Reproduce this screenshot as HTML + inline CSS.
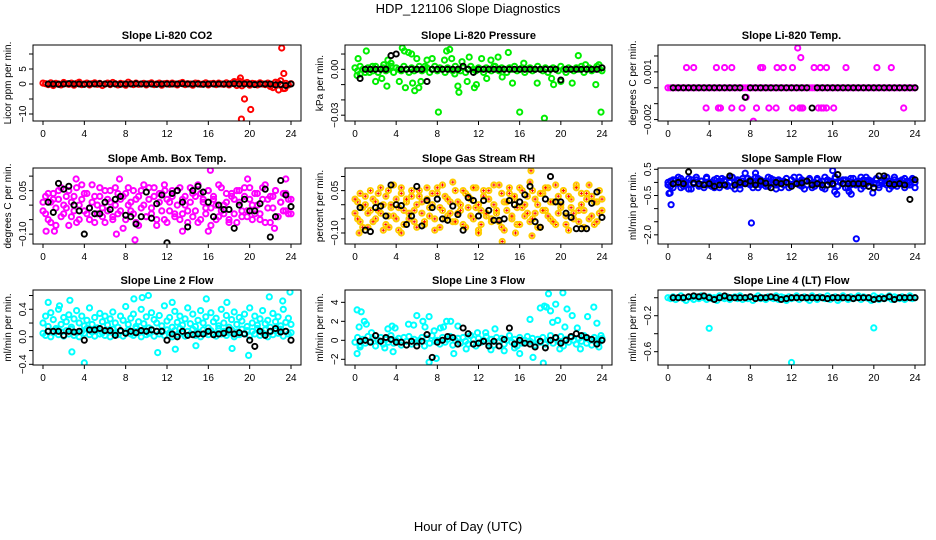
<!DOCTYPE html>
<html><head><meta charset="utf-8"><style>
html,body{margin:0;padding:0;background:#fff;}
svg{display:block;font-family:"Liberation Sans",sans-serif;}
</style></head><body>
<svg id="chart" width="936" height="540" viewBox="0 0 936 540">
<rect x="0" y="0" width="936" height="540" fill="#fff"/>
<text x="468" y="13" font-size="13" text-anchor="middle">HDP_121106  Slope Diagnostics</text>
<text x="468" y="531" font-size="13" text-anchor="middle">Hour of Day (UTC)</text>
</svg>
<script>
// ---------- data ----------
const hourTicks = [0,4,8,12,16,20,24];
const hourTickLabels = ["0","4","8","12","16","20","24"];

// Panel 1: CO2
const co2Band = [0.3,0.1,-0.2,0.4,-0.5,0.2,0,-0.3,0.5,0.1,-0.1,0.3,-0.4,0.2,0.6,-0.2,0,0.3,-0.3,0.1,0.4,-0.1,0.2,-0.5,0,0.3,-0.2,0.5,0.1,-0.3,0.2,0,-0.4,0.6,0.1,-0.2,0.3,-0.1,0,0.2,-0.3,0.1,0.4,-0.2,0,0.3,-0.4,0.1,0.2,-0.1,0.3,0,-0.3,0.2,0.5,-0.2,0.1,0,-0.4,0.3,0.2,-0.1,0,0.4,-0.3,0.1,0.2,-0.2,0.3,0,-0.1,0.4,-0.3,0.2,0.8,-0.5,1.0,-0.6,0.3,0.5,-0.4,0.2,0.1,-0.3,0.4,0,-0.2,0.3,-0.8,-1.2,0.6,0.4,1.1,-1.5,0.2,-0.3,0.1];
const co2OutlierHours = [19.1,19.2,19.5,20.1,23.1,23.3,22.8,23.4];
const co2OutlierValues = [2,-11.7,-5,-8.5,12,3.5,-2,-1.5];
const co2Black = [0,0,-0.1,0,0.1,0,0,-0.1,0,0,0.1,0,0,0,-0.1,0,0,0.1,0,0,0,-0.1,0,0,0,0,0.1,0,0,0,-0.1,0,0,0,0,0,0.1,0,0,0,-0.2,0,0,0,-0.3,-0.2,-0.5,0];
const co2Ticks = [-10,-5,0,5,10];
const co2TickLabels = ["\u221210","","0","5",""];

// Panel 2: Pressure
const presBand = [0.001,-0.001,0.002,0.0,-0.002,0.001,0.0,-0.001,0.002,-0.002,0.0,0.001,-0.001,0.0,0.002,-0.002,0.001,0.0,-0.001,0.002,0.0,-0.002,0.001,-0.001,0.0,0.002,-0.001,0.0,0.001,-0.002,0.0,0.002,-0.001,0.001,0.0,-0.002,0.001,0.0,-0.001,0.002,0.0,-0.001,0.001,-0.002,0.0,0.002,0.0,-0.001,0.001,0.0,-0.002,0.001,0.0,-0.001,0.002,0.0,-0.001,0.001,0.0,-0.002,0.001,0.0,0.002,-0.001,0.0,0.001,-0.002,0.0,0.001,-0.001,0.0,0.002,0.0,-0.001,0.001,-0.002,0.0,0.001,0.0,-0.001,0.002,0.0,-0.002,0.001,0.0,-0.001,0.001,0.0,0.002,-0.002,0.0,0.001,-0.001,0.0,0.002,0.0,-0.001];
const presScatterHours = [1.1,0.3,0.5,1.7,2,2.6,3.1,3.2,3.5,4.3,4.6,4.8,4.9,5.2,5.5,5.6,5.8,6,6.2,6.4,7,7.5,8.1,8.7,8.9,9.2,9.4,9.7,10,10.1,10.4,10.9,11.1,11.6,11.8,12.3,12.8,13.2,13.6,13.9,14.3,14.9,15.3,16,16.4,17.7,18.4,19.1,19.3,20,21.1,21.7,22.4,23.4,23.9,23.7,2.8,1.4,6.8,0.2];
const presScatterValues = [0.012,0.007,-0.003,0.002,-0.008,-0.006,-0.011,0.006,0.004,-0.008,0.014,0.012,-0.012,0.011,0.01,-0.009,-0.014,0.007,-0.012,-0.008,0.006,0.007,-0.028,0.006,0.012,0.013,0.007,-0.003,-0.011,-0.015,0.005,-0.008,0.008,-0.012,-0.01,0.007,-0.006,0.006,0.002,0.008,-0.005,0.011,-0.009,-0.028,0.004,-0.009,-0.032,-0.006,-0.01,-0.008,-0.009,0.009,0.003,-0.01,-0.028,0.003,0.003,-0.002,0.002,-0.004];
const presBlack = [-0.006,0.0,0.0,0.0,0.0,0.0,0.009,0.01,0.0,0.0,0.0,0.0,0.0,-0.008,0.0,0.0,0.0,0.0,0.0,0.0,0.002,0.0,-0.002,0.0,0.0,0.0,0.0,0.0,0.0,0.0,0.0,0.0,0.0,0.0,0.0,0.0,0.0,0.0,0.0,-0.007,0.0,0.0,0.0,0.0,0.0,0.0,0.0,0.001];
const presTicks = [-0.03,-0.02,-0.01,0,0.01];
const presTickLabels = ["\u22120.03","","","0.00",""];

// Panel 3: Li-820 Temp
const tempBand = [0,0,0,0,0,0,0,0,0,0,0,0,0,0,0,0,0,0,0,0,0,0,0,0,0,0,0,0,0,0,0,0,0,0,0,0,0,0,0,0,0,0,0,0,0,0,0,0,0,0,0,0,0,0,0,0,0,0,0,0,0,0,0,0,0,0,0,0,0,0,0,0,0,0,0,0,0,0,0,0,0,0,0,0,0,0,0,0,0,0,0,0,0,0,0,0,0];
const tempOutlierHours = [1.8,2.5,4.7,5.5,6.2,9,9.2,10.6,11.2,12.1,14.2,14.8,15.4,17.3,20.3,21.7,3.7,4.9,5.1,6.2,7.2,8.6,9.8,10.5,12.1,12.8,13,13.1,14.6,14.9,15.1,15.4,16.1,22.9,12.6,12.9,8.3,7.6];
const tempOutlierValues = [0.00127,0.00127,0.00127,0.00127,0.00127,0.00127,0.00127,0.00127,0.00127,0.00127,0.00127,0.00127,0.00127,0.00127,0.00127,0.00127,-0.00127,-0.00127,-0.00127,-0.00127,-0.00127,-0.00127,-0.00127,-0.00127,-0.00127,-0.00127,-0.00127,-0.00127,-0.00127,-0.00127,-0.00127,-0.00127,-0.00127,-0.00127,0.0025,0.0019,-0.0021,-0.0006];
const tempBlack = [0,0,0,0,0,0,0,0,0,0,0,0,0,0,-0.0006,0,0,0,0,0,0,0,0,0,0,0,0,-0.00127,0,0,0,0,0,0,0,0,0,0,0,0,0,0,0,0,0,0,0,0];
const tempTicks = [-0.002,-0.001,0,0.001,0.002];
const tempTickLabels = ["\u22120.002","","","0.001",""];

// Panel 4: Amb. Box Temp
const boxA = [0.01,-0.03,0.04,-0.06,0.02,-0.01,0.05,-0.04,0.00,0.03,-0.07,0.01,-0.02,0.06,-0.05,0.02,0.04,-0.03,-0.01,0.07,-0.06,0.00,0.03,-0.04,0.05,-0.02,0.01,-0.05,0.06,-0.03,0.02,-0.08,0.04,0.00,-0.02,0.05,-0.06,0.03,-0.01,0.07,-0.04,0.02,-0.03,0.06,-0.07,0.01,0.04,-0.05,0.02,-0.02,0.05,-0.04,0.00,0.06,-0.03,0.03,-0.06,0.01,0.04,-0.02,0.07,-0.05,0.02,-0.01,0.05,-0.07,0.03,0.00,-0.04,0.06,-0.03,0.01,-0.05,0.04,0.02,-0.06,0.05,-0.02,0.03,-0.04,0.06,0.00,-0.03,0.04,-0.05,0.02,0.07,-0.01,-0.06,0.03,0.05,-0.04,0.01,-0.02,0.04,-0.03,0.02];
const boxB = [-0.02,0.03,-0.05,0.01,0.04,-0.07,0.02,0.06,-0.03,-0.01,0.05,-0.04,0.03,-0.06,0.00,0.07,-0.02,0.04,-0.05,0.01,0.03,-0.03,0.06,-0.01,-0.06,0.02,0.05,-0.04,0.00,0.04,-0.02,0.03,-0.05,0.06,0.01,-0.03,0.02,-0.07,0.05,0.00,-0.04,0.06,-0.01,0.03,-0.05,0.04,-0.02,0.07,-0.06,0.01,0.03,-0.03,0.05,-0.05,0.02,0.00,-0.02,0.06,-0.04,0.03,-0.06,0.04,0.01,-0.03,0.05,-0.01,0.02,-0.05,0.07,-0.02,0.00,0.04,-0.06,0.03,-0.03,0.05,0.01,-0.04,0.06,-0.02,0.02,-0.05,0.04,0.00,-0.03,0.06,-0.06,0.02,0.03,-0.01,0.05,-0.04,0.01,0.04,-0.02,0.02,-0.03];
const boxOutlierHours = [0.3,1.1,3.2,7.4,8.9,16.2,16,19.8,23.5,22.4,11.8,13.5,7.1];
const boxOutlierValues = [-0.09,-0.09,0.09,0.09,-0.12,0.12,-0.09,0.09,0.09,-0.08,0.05,-0.09,-0.1];
const boxBlack = [0.01,-0.025,0.075,0.055,0.065,0.0,-0.02,-0.1,-0.01,-0.03,-0.03,0.01,-0.015,0.02,0.03,-0.035,-0.04,-0.065,-0.04,0.045,-0.045,0.005,0.035,-0.13,0.04,0.05,0.01,-0.075,0.05,0.065,0.045,0.01,-0.04,0.0,-0.015,-0.015,-0.08,0.0,0.02,-0.02,-0.02,0.005,0.055,-0.11,-0.04,0.085,0.035,-0.005];
const boxTicks = [-0.10,-0.05,0,0.05,0.10];
const boxTickLabels = ["\u22120.10","","","0.05",""];

// Panel 5: Gas Stream RH
const rhA = [-0.03,0.01,-0.06,-0.01,0.03,-0.08,-0.02,0.02,-0.05,0.04,-0.03,0.00,-0.07,0.05,-0.01,-0.04,0.02,-0.09,0.06,-0.02,0.01,-0.05,0.03,-0.06,0.00,0.05,-0.03,-0.07,0.02,-0.01,0.04,-0.05,0.06,-0.08,-0.02,0.03,-0.04,0.01,-0.06,0.05,-0.03,0.00,-0.07,0.04,-0.01,0.02,-0.05,0.06,-0.09,-0.02,0.03,-0.04,0.05,-0.06,0.00,-0.03,0.07,-0.08,0.01,-0.02,0.04,-0.05,0.02,-0.07,0.06,-0.01,-0.04,0.03,-0.06,0.05,-0.03,0.00,-0.08,0.04,-0.02,0.06,-0.05,0.01,-0.07,0.03,-0.01,0.05,-0.04,-0.09,0.02,-0.03,0.07,-0.06,0.00,-0.02,0.04,-0.05,0.03,-0.07,0.01,-0.03,0.02];
const rhB = [0.02,-0.05,0.04,-0.08,0.00,-0.03,0.05,-0.06,0.01,-0.02,0.06,-0.09,0.03,-0.04,0.00,0.07,-0.05,-0.01,0.04,-0.07,0.02,-0.03,0.05,-0.02,-0.08,0.03,0.01,-0.06,0.06,-0.04,0.00,-0.09,0.04,-0.01,0.07,-0.05,0.02,-0.03,0.08,-0.06,0.01,-0.02,0.05,-0.08,0.03,-0.04,0.06,-0.01,0.00,-0.07,0.05,-0.03,0.02,-0.05,0.07,-0.02,-0.06,0.04,-0.09,0.01,0.06,-0.04,0.03,-0.01,-0.07,0.05,0.00,-0.03,0.08,-0.05,0.02,-0.08,0.04,-0.02,0.06,-0.04,0.01,-0.06,0.07,-0.03,0.00,0.05,-0.07,0.03,-0.01,-0.05,0.06,-0.02,0.04,-0.08,0.02,0.07,-0.04,0.01,-0.06,0.05,-0.02];
const rhOutlierHours = [14.3,17.1,17.2,3.3,12,15.6,0.4,4.5];
const rhOutlierValues = [-0.13,0.12,-0.11,-0.08,-0.1,-0.1,-0.1,-0.1];
const rhBlack = [-0.01,-0.09,-0.095,-0.01,-0.005,-0.04,0.07,0.0,-0.003,-0.07,-0.04,0.065,-0.075,0.015,-0.01,0.02,-0.05,-0.055,-0.005,-0.035,-0.09,0.025,0.015,-0.04,0.015,-0.02,-0.055,-0.055,-0.05,0.015,0.0,0.01,0.035,0.065,-0.06,-0.08,0.02,0.1,0.01,0.01,-0.03,-0.045,-0.085,-0.085,-0.085,0.005,0.045,-0.045];
const rhTicks = [-0.10,-0.05,0,0.05,0.10];
const rhTickLabels = ["\u22120.10","","","0.05",""];

// Panel 6: Sample Flow
const sampleA = [-0.1,0.05,-0.2,0.1,-0.05,0.15,-0.15,0.0,-0.25,0.1,-0.05,0.2,-0.1,0.05,-0.2,0.15,0.0,-0.15,0.1,-0.05,-0.2,0.15,0.05,-0.1,0.2,-0.15,0.0,0.1,-0.25,0.05,-0.05,0.15,-0.1,0.0,0.2,-0.2,0.1,-0.05,0.05,-0.15,0.15,0.0,-0.1,0.1,-0.2,0.05,0.15,-0.05,-0.15,0.2,0.0,-0.1,0.1,-0.25,0.05,0.15,-0.05,-0.15,0.1,0.0,-0.2,0.2,-0.1,0.05,-0.05,0.15,-0.15,0.0,0.1,-0.2,0.05,-0.1,0.15,-0.05,0.0,-0.25,0.1,0.2,-0.15,0.05,-0.05,0.1,-0.2,0.0,0.15,-0.1,0.05,-0.15,0.2,-0.05,0.0,0.1,-0.2,0.05,-0.1,0.15,0.0];
const sampleB = [0.0,-0.15,0.1,-0.05,0.2,-0.2,0.05,-0.1,0.15,-0.25,0.0,0.1,-0.15,0.05,-0.05,0.2,-0.1,0.0,-0.2,0.15,0.05,-0.05,0.1,-0.15,0.0,0.2,-0.25,0.05,-0.1,0.15,0.0,-0.05,0.1,-0.2,0.05,0.15,-0.1,0.0,-0.15,0.2,-0.05,0.1,-0.25,0.05,0.0,-0.1,0.15,-0.2,0.1,-0.05,0.0,0.2,-0.15,0.05,-0.1,0.1,-0.2,0.0,0.15,-0.05,0.05,-0.25,0.1,0.0,-0.1,0.2,-0.15,0.05,-0.05,0.1,-0.2,0.15,0.0,-0.1,0.05,0.2,-0.15,-0.05,0.1,0.0,-0.2,0.15,-0.1,0.05,-0.05,0.2,-0.25,0.0,0.1,-0.15,0.05,-0.05,0.15,-0.1,0.0,0.1,-0.2];
const sampleOutlierHours = [0.2,0.3,8.1,18.3,16,16.2,16.4,17.6,17.8,7.5,8.5,19.9,0.1];
const sampleOutlierValues = [-0.4,-0.85,-1.55,-2.15,0.45,-0.35,-0.45,-0.35,-0.45,0.35,0.35,-0.4,-0.42];
const sampleBlack = [-0.05,0.0,-0.05,0.4,-0.03,-0.05,-0.1,-0.05,-0.15,-0.1,-0.1,0.25,-0.1,0.0,-0.05,0.05,-0.1,0.05,-0.03,-0.2,0.0,-0.05,0.0,-0.15,-0.05,-0.02,0.05,-0.1,-0.05,-0.1,-0.1,-0.05,0.3,-0.05,-0.05,-0.05,-0.05,-0.05,-0.15,-0.2,0.25,0.25,-0.05,-0.08,-0.05,-0.1,-0.65,0.1];
const sampleTicks = [-2,-1.5,-1,-0.5,0,0.5];
const sampleTickLabels = ["\u22122.0","","","\u22120.5","","0.5"];

// Panel 7: Line 2 Flow
const line2A = [0.05,0.02,0.08,0.0,0.06,0.1,0.03,0.07,0.01,0.09,0.04,0.11,0.02,0.06,0.0,0.08,0.05,0.12,0.03,0.07,0.01,0.1,0.04,0.06,0.02,0.09,0.0,0.11,0.05,0.03,0.08,0.01,0.07,0.1,0.04,0.02,0.12,0.06,0.0,0.09,0.03,0.05,0.11,0.01,0.08,0.04,0.07,0.02,0.1,0.06,0.0,0.09,0.03,0.12,0.05,0.01,0.08,0.04,0.11,0.02,0.07,0.0,0.1,0.06,0.03,0.09,0.05,0.01,0.12,0.04,0.08,0.02,0.06,0.1,0.0,0.07,0.03,0.11,0.05,0.09,0.01,0.08,0.04,0.12,0.02,0.06,0.1,0.0,0.07,0.03,0.09,0.05,0.11,0.01,0.08,0.04,0.06];
const line2B = [0.2,0.3,0.15,0.35,0.25,0.12,0.4,0.18,0.28,0.22,0.32,0.14,0.26,0.38,0.2,0.3,0.16,0.24,0.42,0.18,0.28,0.13,0.34,0.22,0.3,0.17,0.26,0.36,0.2,0.14,0.3,0.24,0.44,0.18,0.27,0.33,0.15,0.22,0.4,0.19,0.29,0.13,0.35,0.25,0.2,0.31,0.16,0.45,0.23,0.28,0.14,0.37,0.21,0.3,0.17,0.26,0.42,0.19,0.33,0.15,0.24,0.38,0.2,0.29,0.13,0.35,0.22,0.27,0.16,0.4,0.2,0.31,0.14,0.25,0.36,0.18,0.28,0.23,0.33,0.15,0.42,0.2,0.3,0.17,0.26,0.38,0.19,0.24,0.14,0.34,0.22,0.29,0.16,0.4,0.21,0.27,0.18];
const line2OutlierHours = [0.5,1.6,2.6,8.8,9.6,10.2,12.5,15.8,17.8,21.9,23.2,23.9,2.8,4,11.1,12.8,14.8,18.3,19.9];
const line2OutlierValues = [0.5,0.45,0.53,0.55,0.57,0.6,0.5,0.55,0.5,0.58,0.52,0.65,-0.22,-0.38,-0.23,-0.18,-0.13,-0.17,-0.27];
const line2Black = [0.08,0.08,0.08,0.02,0.08,0.07,0.08,-0.05,0.1,0.1,0.12,0.09,0.09,0.02,0.09,0.05,0.08,0.06,0.09,0.08,0.1,0.08,0.08,-0.05,0.04,0.0,0.08,0.02,0.03,0.04,0.04,0.08,0.03,0.04,0.05,0.1,0.04,0.06,0.04,-0.05,-0.14,0.08,0.02,0.08,0.12,0.07,0.08,-0.05];
const line2Ticks = [-0.4,-0.2,0,0.2,0.4,0.6];
const line2TickLabels = ["\u22120.4","","0.0","","0.4",""];

// Panel 8: Line 3 Flow
const line3Band = [-0.2,0.3,-0.5,0.1,-0.3,0.4,-0.1,0.2,-0.6,0.0,0.3,-0.4,0.1,-0.2,0.5,-0.3,0.0,0.2,-0.5,0.3,-0.1,0.4,-0.4,0.1,-0.2,0.0,0.3,-0.6,0.2,-0.3,0.5,-0.1,0.0,-0.4,0.3,-0.2,0.1,0.4,-0.5,0.0,0.2,-0.3,0.3,-0.1,-0.4,0.5,0.1,-0.6,0.2,-0.2,0.0,0.4,-0.3,0.1,-0.5,0.3,-0.1,0.2,-0.4,0.0,0.5,-0.2,0.1,-0.6,0.3,-0.3,0.0,0.4,-0.1,0.2,-0.5,0.1,-0.2,0.3,-0.4,0.0,0.5,-0.3,0.2,-0.1,0.4,-0.6,0.1,-0.2,0.3,0.0,-0.4,0.2,-0.1,0.5,-0.3,0.1,-0.5,0.3,0.0,-0.2,0.2];
const line3ScatterHours = [0.2,0.4,0.6,0.9,1.1,0.2,1.6,3.2,3.6,3.9,3.7,5.2,5.7,6.0,6.6,6.8,7.2,7.2,7.7,7.9,8.3,8.6,8.9,9.3,9.6,10,11.2,11.9,12.7,13.6,15.5,16,17,17.3,18,18.3,18.4,18.6,18.8,19,19.2,19.5,19.7,20.2,20.4,20.6,21.1,21.6,21.9,22.6,23.2,23.5,23.7,23.9,0.5,2.9,10.8,13.2,14.5,19.9];
const line3ScatterValues = [3.2,1.4,3.0,2.0,1.7,-1.4,0.8,1.2,1.5,1.3,-1.2,1.7,1.6,2.6,2.0,1.4,2.5,-2.3,1.0,-1.9,1.3,1.4,2.0,2.0,-1.4,1.5,0.5,0.8,0.8,1.2,-0.8,-1.4,2.2,-1.8,3.4,-2.4,3.6,3.5,4.9,3.1,1.9,3.8,2.1,5.0,1.4,3.3,2.6,1.3,-0.9,2.5,3.5,1.8,-0.7,0.5,-0.7,-0.8,-0.9,-1.0,-1.1,-0.9];
const line3Black = [-0.1,0.0,-0.2,0.5,-0.1,0.3,0.1,-0.2,-0.2,-0.5,-0.1,-0.6,-0.1,0.6,-1.8,-0.2,0.0,0.4,0.3,-0.4,1.3,0.7,-0.4,-0.3,-0.1,-0.6,-0.1,-0.6,0.1,1.3,-0.4,0.0,-0.3,-0.4,-0.7,-0.1,-0.8,0.0,0.3,-0.3,0.0,0.4,0.7,0.5,0.3,0.1,-0.4,0.0];
const line3Ticks = [-2,0,2,4];
const line3TickLabels = ["\u22122","0","2","4"];

// Panel 9: Line 4 (LT) Flow
const line4Band = [0.0,-0.01,0.01,-0.02,0.0,0.02,-0.01,-0.03,0.01,0.0,-0.02,0.01,-0.01,0.02,0.0,-0.02,0.01,-0.01,0.0,-0.03,0.02,0.0,-0.01,0.01,-0.02,0.0,0.01,-0.01,0.02,-0.02,0.0,-0.01,0.01,-0.03,0.0,0.02,-0.01,0.0,-0.02,0.01,0.0,-0.01,0.02,-0.02,0.01,0.0,-0.03,0.01,-0.01,0.0,0.02,-0.02,0.0,0.01,-0.01,-0.03,0.02,0.0,-0.02,0.01,0.0,-0.01,0.02,-0.02,0.0,0.01,-0.03,-0.01,0.02,0.0,-0.02,0.01,-0.01,0.0,0.02,-0.02,0.01,0.0,-0.01,-0.03,0.02,0.0,-0.02,0.01,-0.01,0.0,0.02,-0.02,0.01,0.0,-0.01,0.01,-0.02,0.0,0.02,-0.01,0.0];
const line4OutlierHours = [4,20,12];
const line4OutlierValues = [-0.34,-0.335,-0.72];
const line4Black = [0.0,0.0,0.0,0.01,0.02,0.01,0.02,0.0,-0.02,0.0,0.02,0.0,0.0,0.0,0.0,0.01,-0.01,0.0,0.0,0.01,0.0,-0.02,-0.01,0.0,0.0,0.0,0.0,0.0,0.0,0.0,-0.01,0.0,0.0,0.0,0.0,-0.01,0.0,0.0,0.0,-0.02,-0.01,-0.01,0.01,-0.02,0.0,0.0,0.0,0.0];
const line4Ticks = [-0.6,-0.4,-0.2,0];
const line4TickLabels = ["\u22120.6","","\u22120.2",""];

// ---------- drawing ----------
const NS = "http://www.w3.org/2000/svg";
const svg = document.getElementById('chart');
function mk(tag, attrs, parent){ const e=document.createElementNS(NS,tag); for(const k in attrs) e.setAttribute(k,attrs[k]); (parent||svg).appendChild(e); return e; }

const cols = [{left:33,right:301,x0:43,x24:291},{left:345,right:612,x0:355,x24:602},{left:658,right:925,x0:668,x24:915}];
const rows = [{top:45,bottom:121},{top:168,bottom:244},{top:290,bottom:365}];

const panels = [
 {key:'co2',title:'Slope Li-820 CO2',ylab:'Licor ppm per min.',col:0,row:0,lo:-12.33,hi:13,color:'#ff0000',bands:[co2Band],oh:co2OutlierHours,ov:co2OutlierValues,black:co2Black,ticks:co2Ticks,tl:co2TickLabels},
 {key:'pressure',title:'Slope Li-820 Pressure',ylab:'kPa per min.',col:1,row:0,lo:-0.0338,hi:0.0159,color:'#00ee00',bands:[presBand],oh:presScatterHours,ov:presScatterValues,black:presBlack,ticks:presTicks,tl:presTickLabels},
 {key:'li820-temp',title:'Slope Li-820 Temp.',ylab:'degrees C per min.',col:2,row:0,lo:-0.00209,hi:0.00269,color:'#ff00ff',bands:[tempBand],oh:tempOutlierHours,ov:tempOutlierValues,black:tempBlack,ticks:tempTicks,tl:tempTickLabels},
 {key:'amb-box-temp',title:'Slope Amb. Box Temp.',ylab:'degrees C per min.',col:0,row:1,lo:-0.134,hi:0.128,color:'#ff00ff',bands:[boxA,boxB],oh:boxOutlierHours,ov:boxOutlierValues,black:boxBlack,ticks:boxTicks,tl:boxTickLabels},
 {key:'gas-stream-rh',title:'Slope Gas Stream RH',ylab:'percent per min.',col:1,row:1,lo:-0.139,hi:0.130,color:'#ffcc00',cross:'#ff0000',bands:[rhA,rhB],oh:rhOutlierHours,ov:rhOutlierValues,black:rhBlack,ticks:rhTicks,tl:rhTickLabels},
 {key:'sample-flow',title:'Slope Sample Flow',ylab:'ml/min per min.',col:2,row:1,lo:-2.35,hi:0.55,color:'#0000ff',bands:[sampleA,sampleB],oh:sampleOutlierHours,ov:sampleOutlierValues,black:sampleBlack,ticks:sampleTicks,tl:sampleTickLabels},
 {key:'line2-flow',title:'Slope Line 2 Flow',ylab:'ml/min per min.',col:0,row:2,lo:-0.41,hi:0.68,color:'#00ffff',bands:[line2A,line2B],oh:line2OutlierHours,ov:line2OutlierValues,black:line2Black,ticks:line2Ticks,tl:line2TickLabels},
 {key:'line3-flow',title:'Slope Line 3 Flow',ylab:'ml/min per min.',col:1,row:2,lo:-2.6,hi:5.3,color:'#00ffff',bands:[line3Band],oh:line3ScatterHours,ov:line3ScatterValues,black:line3Black,ticks:line3Ticks,tl:line3TickLabels},
 {key:'line4-flow',title:'Slope Line 4 (LT) Flow',ylab:'ml/min per min.',col:2,row:2,lo:-0.748,hi:0.086,color:'#00ffff',bands:[line4Band],oh:line4OutlierHours,ov:line4OutlierValues,black:line4Black,ticks:line4Ticks,tl:line4TickLabels}
];

function pt(g, x, y, color, w, cross){
  const c = mk('circle',{cx:x.toFixed(1),cy:y.toFixed(1),r:2.6,fill:'none',stroke:color,'stroke-width':w},g);
  
  
  if(cross){
    const p = mk('path',{d:`M${(x-1.5).toFixed(1)} ${y.toFixed(1)}h3M${x.toFixed(1)} ${(y-1.5).toFixed(1)}v3`,stroke:cross,'stroke-width':1},g);
    
    
  }
}

panels.forEach(p=>{
  const c = cols[p.col], r = rows[p.row];
  const xs = h => c.x0 + (c.x24-c.x0)*h/24;
  const ys = v => r.bottom - (v-p.lo)/(p.hi-p.lo)*(r.bottom-r.top);
  const g = mk('g',{});
  
  
  const t = mk('text',{x:(c.left+c.right)/2,y:r.top-6,'font-size':11,'font-weight':'bold','text-anchor':'middle'},g);
  t.textContent = p.title;
  
  
  const yl = mk('text',{x:0,y:0,'font-size':10,'text-anchor':'middle',transform:`translate(${c.left-22},${(r.top+r.bottom)/2}) rotate(-90)`},g);
  yl.textContent = p.ylab;
  
  
  const cid = 'clip-'+p.key;
  const cp = mk('clipPath',{id:cid},g);
  mk('rect',{x:c.left,y:r.top,width:c.right-c.left,height:r.bottom-r.top},cp);
  const pts = mk('g',{'clip-path':`url(#${cid})`},g);
  
  
  p.bands.forEach(arr=>{
    arr.forEach((v,i)=>{ pt(pts, xs(i*24/(arr.length-1)), ys(v), p.color, 2, p.cross); });
  });
  p.oh.forEach((h,i)=>{ pt(pts, xs(h), ys(p.ov[i]), p.color, 2, p.cross); });
  p.black.forEach((v,i)=>{ pt(pts, xs((i+1)*24/p.black.length), ys(v), '#000', 1.9, null); });
  const box = mk('rect',{x:c.left,y:r.top,width:c.right-c.left,height:r.bottom-r.top,fill:'none',stroke:'#000','stroke-width':1},g);
  
  
  hourTicks.forEach((h,i)=>{
    const x = xs(h);
    mk('line',{x1:x,x2:x,y1:r.bottom,y2:r.bottom+4,stroke:'#000'},g);
    const tx = mk('text',{x:x,y:r.bottom+16,'font-size':10,'text-anchor':'middle'},g);
    tx.textContent = hourTickLabels[i];
    
    
  });
  p.ticks.forEach((v,i)=>{
    const y = ys(v);
    mk('line',{x1:c.left-4,x2:c.left,y1:y,y2:y,stroke:'#000'},g);
    if(p.tl[i]){
      const ty = mk('text',{x:0,y:0,'font-size':10,'text-anchor':'middle',transform:`translate(${c.left-7},${y}) rotate(-90)`},g);
      ty.textContent = p.tl[i];
      
      
    }
  });
});
</script>
</body></html>
